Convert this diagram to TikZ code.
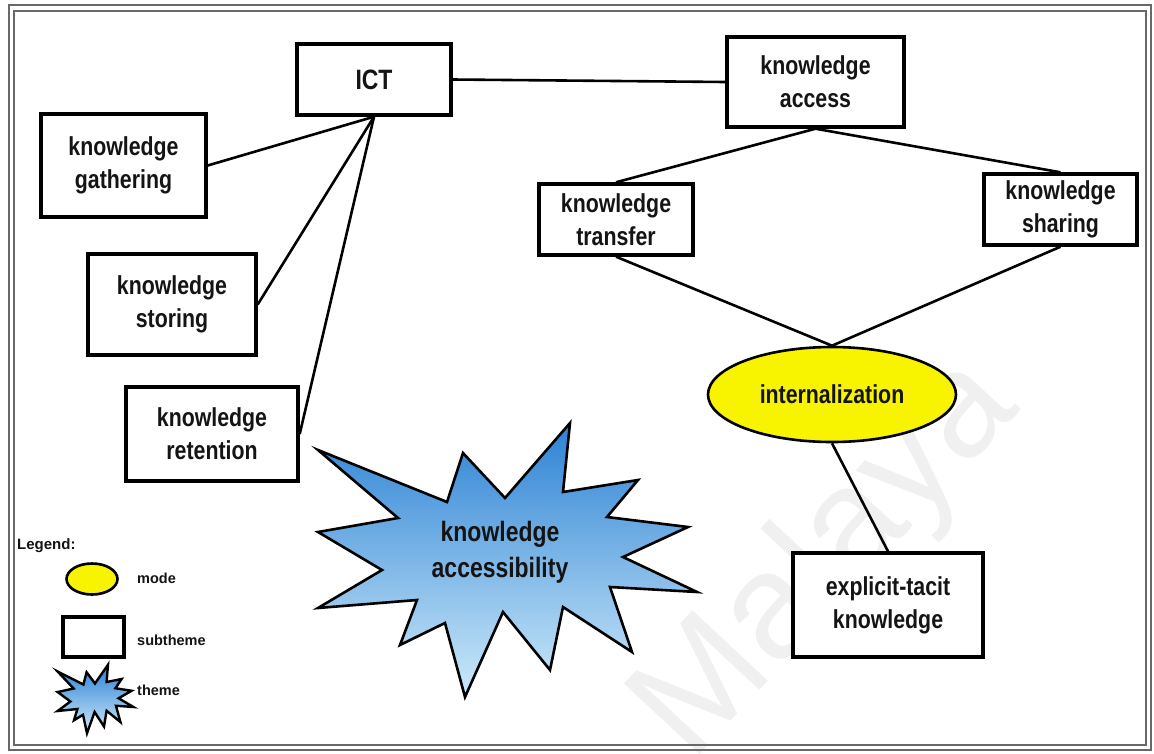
\documentclass[tikz,border=0pt]{standalone}
\usepackage{fontspec}
\usetikzlibrary{shapes.geometric}
\newfontfamily\boxfont{Liberation Sans}[FakeStretch=0.82]
\newfontfamily\legfont{Liberation Sans}
\definecolor{ink}{RGB}{20,20,20}
\definecolor{framegray}{RGB}{105,105,105}
\definecolor{modeyellow}{RGB}{248,244,0}
\definecolor{burstdark}{RGB}{45,130,212}
\definecolor{burstlight}{RGB}{205,234,250}
\definecolor{watermark}{RGB}{240,240,240}

% outline of the "explosion" used for the theme, relative to its centre
\newcommand\burstoutline{(-187,-110) -- (-58,-58) -- (-42,-107) -- (0,-62) -- (65,-137) -- (58,-68)
  -- (133,-80) -- (102,-43) -- (183,-33) -- (118,-3) -- (192,32) -- (105,27)
  -- (127,92) -- (58,47) -- (45,110) -- (-2,52) -- (-40,137) -- (-60,63)
  -- (-105,85) -- (-88,40) -- (-187,48) -- (-123,10) -- (-187,-28) -- (-107,-42) -- cycle}

\begin{document}
\begin{tikzpicture}[x=1pt,y=-1pt,
  subtheme/.style={draw=black, line width=3.4pt, fill=white, rectangle, inner sep=0pt,
    align=center, text=ink, font=\boxfont\bfseries\fontsize{26}{33}\selectfont},
  modenode/.style={draw=black, line width=2.6pt, fill=modeyellow, ellipse, inner sep=0pt,
    align=center, text=ink, font=\boxfont\bfseries\fontsize{26}{33}\selectfont},
  link/.style={draw=black, line width=2.6pt},
  burst/.style={draw=black, line width=2.6pt, line join=miter, top color=burstdark, bottom color=burstlight},
  legtext/.style={anchor=west, inner sep=0pt, text=ink, font=\legfont\bfseries\fontsize{14.5}{16}\selectfont},
  frameline/.style={draw=framegray, line width=1.6pt}]

\useasboundingbox (0,0) rectangle (1154,753);
\fill[white] (0,0) rectangle (1154,753);

% faint watermark behind everything
\node[rotate=47, text=watermark, inner sep=0pt, font=\legfont\fontsize{150}{150}\selectfont] (wm) at (828,560) {Malaya};

% double frame
\draw[frameline] (9,5) rectangle (1151,750);
\draw[frameline] (14,11) rectangle (1146,745);

% subthemes
\node[subtheme, minimum width=154, minimum height=71, font=\boxfont\bfseries\fontsize{28}{33}\selectfont] (ict) at (374,79.5) {ICT};
\node[subtheme, minimum width=177, minimum height=90] (access) at (815.5,82) {knowledge\\access};
\node[subtheme, minimum width=165, minimum height=103] (gather) at (123.5,165.5) {knowledge\\gathering};
\node[subtheme, minimum width=168, minimum height=101] (store) at (172,304.5) {knowledge\\storing};
\node[subtheme, minimum width=172, minimum height=94] (retain) at (212,434) {knowledge\\retention};
\node[subtheme, minimum width=154, minimum height=71] (transfer) at (616,219.5) {knowledge\\transfer};
\node[subtheme, minimum width=153, minimum height=71] (share) at (1060.5,209.5) {knowledge\\sharing};
\node[subtheme, minimum width=190, minimum height=104] (explicit) at (888,605) {explicit-tacit\\knowledge};

% mode
\node[modenode, minimum width=248, minimum height=95] (intern) at (832,394.5) {internalization};

% theme
\begin{scope}[shift={(505,560)}]
  \path[burst] \burstoutline;
\end{scope}
\node[align=center, text=ink, inner sep=0pt, font=\boxfont\bfseries\fontsize{28}{36}\selectfont] (theme) at (500,552) {knowledge\\accessibility};

% connectors
\draw[link] (ict.east) -- (access.west);
\draw[link] (ict.south) -- (gather.east);
\draw[link] (ict.south) -- (store.east);
\draw[link] (ict.south) -- (retain.east);
\draw[link] (access.south) -- (transfer.north);
\draw[link] (access.south) -- (share.north);
\draw[link] (transfer.south) -- (intern.north);
\draw[link] (share.south) -- (intern.north);
\draw[link] (intern.south) -- (explicit.north);

% legend
\node[legtext, font=\legfont\bfseries\fontsize{15}{16}\selectfont] (legend) at (17,546) {Legend:};
\node[draw=black, line width=2.6pt, fill=modeyellow, ellipse, minimum width=51, minimum height=31, inner sep=0pt] (legmode) at (92,579) {};
\node[legtext] (legmodetext) at (137,578) {mode};
\node[draw=black, line width=3.4pt, fill=white, rectangle, minimum width=61, minimum height=40, inner sep=0pt] (legsub) at (93.5,637) {};
\node[legtext] (legsubtext) at (137,640) {subtheme};
\begin{scope}[shift={(95,699)}, xscale=0.2, yscale=0.25]
  \path[burst, line width=2.4pt] \burstoutline;
\end{scope}
\node[legtext] (legthemetext) at (137,690) {theme};

\end{tikzpicture}
\end{document}
